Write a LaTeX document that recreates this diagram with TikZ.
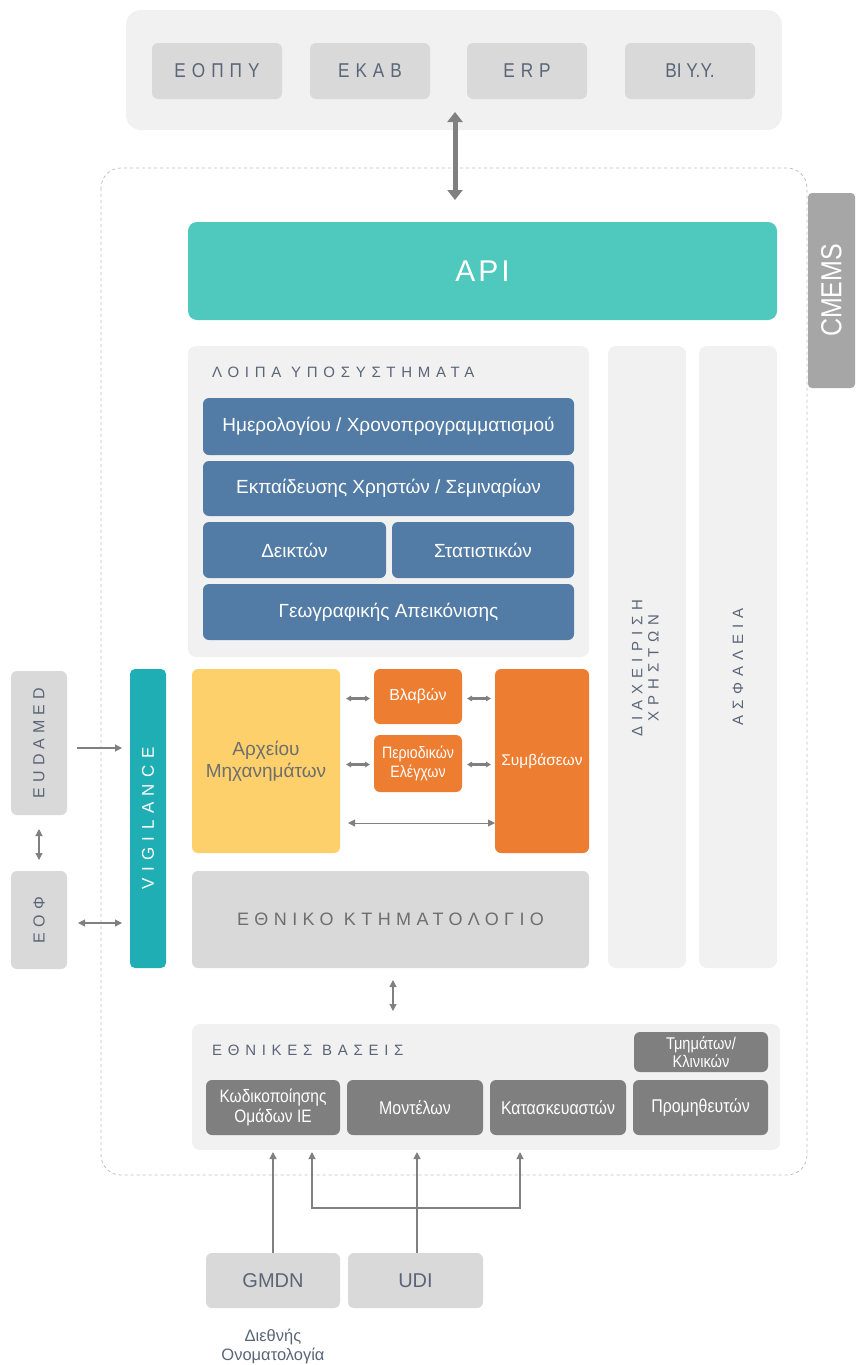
\documentclass[tikz,border=0pt]{standalone}
\usepackage{fontspec}
\setmainfont{Liberation Sans}
\newfontfamily\narrowfont[FakeStretch=0.86]{Liberation Sans}
\usetikzlibrary{arrows.meta,calc}
\definecolor{panel}{HTML}{F1F1F1}
\definecolor{lightbox}{HTML}{D9D9D9}
\definecolor{slate}{HTML}{5B6578}
\definecolor{apicol}{HTML}{4FC9BE}
\definecolor{bluebox}{HTML}{527CA5}
\definecolor{vigcol}{HTML}{20AEB5}
\definecolor{yellowbox}{HTML}{FDD06B}
\definecolor{orangebox}{HTML}{ED7D31}
\definecolor{darkbox}{HTML}{7F7F7F}
\definecolor{cmemscol}{HTML}{A6A6A6}
\definecolor{arrowcol}{HTML}{808080}
\definecolor{dashcol}{HTML}{BFBFBF}
\definecolor{graytext}{HTML}{6E6E6E}
\newcommand{\fs}[1]{\fontsize{#1pt}{\fpeval{#1*1.15}pt}\selectfont}
\newcommand{\ls}[1]{\addfontfeatures{LetterSpace=#1}}
\tikzset{
  box/.style={rounded corners=6pt, inner sep=0pt, outer sep=0pt, align=center, draw=none},
  panelbox/.style={box, fill=panel, rounded corners=8pt},
  graybox/.style={box, fill=lightbox, text=slate},
  topcell/.style={graybox, font=\narrowfont\fs{20}\ls{30}},
  bluecell/.style={box, fill=bluebox, text=white, font=\fs{19}},
  orangecell/.style={box, fill=orangebox, text=white},
  darkcell/.style={box, fill=darkbox, text=white, font=\narrowfont\fs{18.5}},
  conn/.style={draw=arrowcol, line width=1.1pt, arrows={-Triangle[length=7pt,width=7pt]}},
  dconn/.style={draw=arrowcol, line width=1.1pt, arrows={Triangle[length=7pt,width=7pt]-Triangle[length=7pt,width=7pt]}},
  fatconn/.style={draw=arrowcol, line width=2.6pt, arrows={Triangle[length=5pt,width=5.5pt]-Triangle[length=5pt,width=5.5pt]}},
}
\begin{document}
\begin{tikzpicture}[x=1pt,y=-1pt]
\useasboundingbox (0,0) rectangle (855,1365);

% top external systems
\node[panelbox, rounded corners=15pt, minimum width=656, minimum height=120] (top) at (454,70) {};
\node[topcell, minimum width=130, minimum height=56] (eoppy) at (217,71) {ΕΟΠΠΥ};
\node[topcell, minimum width=120, minimum height=56] (ekav) at (370,71) {ΕΚΑΒ};
\node[topcell, minimum width=120, minimum height=56] (erp) at (527,71) {ERP};
\node[topcell, minimum width=130, minimum height=56, font=\narrowfont\fs{20}] (bi) at (690,71) {ΒΙ Υ.Υ.};

% dashed system boundary
\draw[dashcol, dashed, line width=0.8pt, rounded corners=20pt] (101,168) rectangle (807,1175);

% CMEMS tab
\node[box, rounded corners=4pt, fill=cmemscol, text=white, minimum width=47, minimum height=195, font=\narrowfont\fs{29}] (cmems) at (831.5,290.5) {\rotatebox{90}{CMEMS}};

% API
\node[box, rounded corners=9pt, fill=apicol, text=white, minimum width=589, minimum height=98, font=\fs{30}\ls{10}] (api) at (482.5,271) {API};

% other subsystems
\node[panelbox, minimum width=401, minimum height=311] (loipa) at (388.5,501.5) {};
\node[anchor=west, inner sep=0pt, text=slate, font=\fs{15}\ls{38}] (loipalbl) at (212,372) {ΛΟΙΠΑ ΥΠΟΣΥΣΤΗΜΑΤΑ};
\node[bluecell, minimum width=371, minimum height=57] (hmer) at (388.5,426.5) {Ημερολογίου / Χρονοπρογραμματισμού};
\node[bluecell, minimum width=371, minimum height=55] (ekp) at (388.5,488.5) {Εκπαίδευσης Χρηστών / Σεμιναρίων};
\node[bluecell, minimum width=183, minimum height=56] (deik) at (294.5,550) {Δεικτών};
\node[bluecell, minimum width=182, minimum height=56] (stat) at (483,550) {Στατιστικών};
\node[bluecell, minimum width=371, minimum height=56] (geo) at (388.5,612) {Γεωγραφικής Απεικόνισης};

% right columns
\node[panelbox, minimum width=78, minimum height=622, text=slate, font=\fs{15}\ls{40}] (diax) at (647,657) {\rotatebox{90}{\begin{tabular}{@{}c@{}}ΔΙΑΧΕΙΡΙΣΗ\\[-1pt]ΧΡΗΣΤΩΝ\end{tabular}\hspace{22pt}}};
\node[panelbox, minimum width=78, minimum height=622, text=slate, font=\fs{15}\ls{40}] (asf) at (738,657) {\rotatebox{90}{ΑΣΦΑΛΕΙΑ\hspace{20pt}}};

% vigilance
\node[box, rounded corners=5pt, fill=vigcol, text=white, minimum width=36, minimum height=299, font=\fs{17}\ls{38}] (vig) at (148,818.5) {\rotatebox{90}{VIGILANCE}};

% core modules
\node[box, fill=yellowbox, text=graytext, minimum width=148, minimum height=184, font=\fs{19}] (arx) at (266,761) {Αρχείου\\Μηχανημάτων};
\node[orangecell, minimum width=88, minimum height=55, font=\fs{16}] (vlav) at (418,696.5) {Βλαβών};
\node[orangecell, minimum width=88, minimum height=57, font=\narrowfont\fs{16.5}] (period) at (418,763.5) {Περιοδικών\\Ελέγχων};
\node[orangecell, minimum width=94, minimum height=184, font=\fs{15.5}] (symv) at (542,761) {Συμβάσεων};

\draw[fatconn] ($(arx.east |- vlav.west)+(6,2)$) -- ($(vlav.west)+(-4,2)$);
\draw[fatconn] ($(vlav.east)+(5,2)$) -- ($(symv.west |- vlav.west)+(-4,2)$);
\draw[fatconn] ($(arx.east |- period.west)+(6,1)$) -- ($(period.west)+(-4,1)$);
\draw[fatconn] ($(period.east)+(5,1)$) -- ($(symv.west |- period.west)+(-4,1)$);
\coordinate (longl) at (348,823);
\draw[dconn, line width=0.9pt] (longl) -- (longl -| symv.west);

% national cadastre
\node[box, fill=lightbox, text=graytext, minimum width=397, minimum height=97, font=\fs{18}\ls{30}] (ktim) at (390.5,919.5) {ΕΘΝΙΚΟ ΚΤΗΜΑΤΟΛΟΓΙΟ};

% external left
\node[graybox, minimum width=56, minimum height=144, font=\fs{16}\ls{32}] (eud) at (39,743) {\rotatebox{90}{EUDAMED}};
\node[graybox, minimum width=56, minimum height=98, font=\fs{16}\ls{32}] (eof) at (39,920) {\rotatebox{90}{ΕΟΦ}};

\draw[conn] ($(eud.east)+(10,5)$) -- ($(vig.west |- eud.east)+(-8,5)$);
\draw[dconn] ($(eud.south)+(0,14)$) -- ($(eof.north)+(0,-11)$);
\draw[dconn] ($(eof.east)+(11,3)$) -- ($(vig.west |- eof.east)+(-8,3)$);

% top fat arrow
\draw[draw=arrowcol, line width=5pt, arrows={Triangle[length=10pt,width=15pt]-Triangle[length=10pt,width=15pt]}] ($(top.south)+(1,-18)$) -- ($(api.north)+(-27.5,-22)$);

% national bases
\node[panelbox, minimum width=588, minimum height=126] (ethn) at (486,1087) {};
\node[anchor=west, inner sep=0pt, text=slate, font=\fs{15}\ls{38}] (ethnlbl) at (212,1050) {ΕΘΝΙΚΕΣ ΒΑΣΕΙΣ};
\node[darkcell, minimum width=134, minimum height=55, font=\narrowfont\fs{18}] (kod) at (273,1107.5) {Κωδικοποίησης\\Ομάδων ΙΕ};
\node[darkcell, minimum width=136, minimum height=55] (mont) at (415,1107.5) {Μοντέλων};
\node[darkcell, minimum width=136, minimum height=55] (kat) at (558,1107.5) {Κατασκευαστών};
\node[darkcell, minimum width=135, minimum height=55] (prom) at (700.5,1107.5) {Προμηθευτών};
\node[darkcell, minimum width=134, minimum height=40, font=\narrowfont\fs{17}] (tmim) at (701,1052) {Τμημάτων/\\[-2pt]Κλινικών};

\draw[dconn] ($(ktim.south)+(2.5,12)$) -- ($(ethn.north -| ktim.south)+(2.5,-13)$);

% bottom sources
\node[graybox, minimum width=134, minimum height=55, font=\fs{20}] (gmdn) at (273,1280.5) {GMDN};
\node[graybox, minimum width=135, minimum height=55, font=\fs{20}] (udi) at (415.5,1280.5) {UDI};
\node[text=slate, align=center, inner sep=0pt, font=\fs{16.5}] (gmdnlbl) at (273,1346) {Διεθνής\\Ονοματολογία};

\draw[conn] (gmdn.north) -- ($(gmdn.north |- ethn.south)+(0,2)$);
\draw[conn] ($(udi.north)+(1.5,0)$) -- ($(udi.north |- ethn.south)+(1.5,2)$);
\coordinate (bl) at (312,1208);
\coordinate (br) at (520,1208);
\draw[dconn] ($(bl |- ethn.south)+(0,2)$) -- (bl) -- (br) -- ($(br |- ethn.south)+(0,2)$);
\end{tikzpicture}
\end{document}
